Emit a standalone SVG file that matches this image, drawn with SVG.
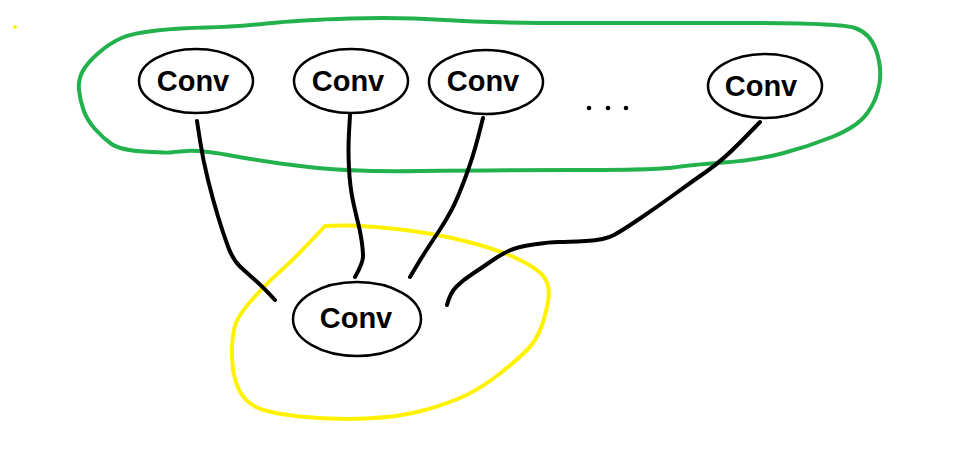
<svg xmlns="http://www.w3.org/2000/svg" width="979" height="468" viewBox="0 0 979 468">
<style>
.node ellipse{fill:#fff;stroke:#000;stroke-width:2.5}
.node text{font-family:"Liberation Sans",Arial,sans-serif;font-weight:bold;font-size:29px;fill:#000;text-anchor:middle}
.wire{fill:none;stroke:#000;stroke-width:4;stroke-linecap:round;stroke-linejoin:round}
.loop{fill:none;stroke-width:4;stroke-linecap:round;stroke-linejoin:round}
</style>
<rect width="979" height="468" fill="#fff"/>
<circle cx="15" cy="27" r="2" fill="#fff200"/>
<g id="group-top">
<path class="loop" stroke="#22b14c" d="M98.5,53 Q110,43 121.5,38 Q133,33 156.5,30.5 Q180,28 206.5,27.5 Q233,27 266.5,23.5 Q300,20 350,18.5 Q400,17 445,20 Q490,23 573.5,23 Q657,23 748.5,23 Q840,23 855,28 Q870,33 876,50 Q882,67 879.5,83.5 Q877,100 867,113.5 Q857,127 832,137 Q807,147 782,153.5 Q757,160 723.5,162.5 Q690,165 673.5,167.5 Q657,170 573.5,170 Q490,170 420,171 Q350,172 308.5,167 Q267,162 233.5,156 Q200,150 186.5,151 Q173,152 170,152.5 Q167,153 143.5,151.5 Q120,150 111.5,144 Q103,138 95,129 Q87,120 83.5,110 Q80,100 79,90 Q78,80 82.5,71.5 Q87,63 98.5,53 Z"/>
</g>
<g id="group-bottom">
<path class="loop" stroke="#fff200" d="M325,226 L342,225.5 Q360,225 396.5,229 Q433,233 466.5,241.5 Q500,250 520,260 Q540,270 545,278.5 Q550,287 548.5,298.5 Q547,310 542,325 Q537,340 527,350 Q517,360 500,373.5 Q483,387 466.5,395 Q450,403 425,410 Q400,417 366.5,418.5 Q333,420 300,416.5 Q267,413 255,406.5 Q243,400 237.5,386.5 Q232,373 232,353 Q232,333 236,323 Q240,313 253.5,298 Q267,283 280,271.5 Q293,260 309,243 L325,226 Z"/>
</g>
<g id="connectors">
<path class="wire" d="M197,121 L200,140.5 Q203,160 208,180 Q213,200 218,216.5 Q223,233 228,246.5 Q233,260 240,266.5 Q247,273 255,280 Q263,287 275,300"/>
<path class="wire" d="M350,115 L349,132.5 Q348,150 349,168.5 Q350,187 353,201 Q356,215 358,222.5 Q360,230 361.5,240 Q363,250 363,256.5 Q363,263 355,277"/>
<path class="wire" d="M483,118 L478,137.5 Q473,157 465,178.5 Q457,200 451,211 Q445,222 439,231 Q433,240 426.5,250 Q420,260 410,277"/>
<path class="wire" d="M760,122 L741.5,141 Q723,160 706.5,171.5 Q690,183 673.5,195 Q657,207 640,218.5 Q623,230 614,235 Q605,240 586,241 Q567,242 558.5,242 Q550,242 533.5,244.5 Q517,247 508.5,251 Q500,255 491.5,261 Q483,267 473,273.5 Q463,280 456.5,286.5 Q450,293 447,305"/>
</g>
<g id="node1" class="node"><ellipse cx="196" cy="81" rx="57" ry="32"/><text x="193" y="91">Conv</text></g>
<g id="node2" class="node"><ellipse cx="351" cy="81" rx="57" ry="32"/><text x="348" y="91">Conv</text></g>
<g id="node3" class="node"><ellipse cx="486" cy="82" rx="57" ry="32"/><text x="483" y="91">Conv</text></g>
<g id="node4" class="node"><ellipse cx="765" cy="86" rx="57" ry="32"/><text x="761" y="96">Conv</text></g>
<g id="node5" class="node"><ellipse cx="357" cy="319" rx="64" ry="37"/><text x="356" y="328">Conv</text></g>
<g id="ellipsis">
<circle cx="589" cy="108" r="2.3" fill="#000"/>
<circle cx="608" cy="108" r="2.3" fill="#000"/>
<circle cx="626" cy="108" r="2.3" fill="#000"/>
</g>
</svg>
